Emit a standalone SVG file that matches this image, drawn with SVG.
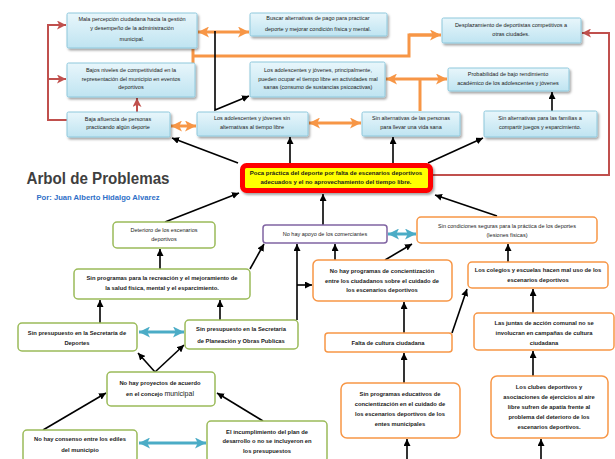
<svg xmlns="http://www.w3.org/2000/svg" width="615" height="459" viewBox="0 0 615 459">
<defs>
<linearGradient id="blueG" x1="0" y1="0" x2="0" y2="1">
<stop offset="0" stop-color="#e8f6fb"/>
<stop offset="1" stop-color="#bfe4f1"/>
</linearGradient>
<filter id="sh" x="-10%" y="-20%" width="125%" height="150%">
<feDropShadow dx="1.5" dy="2" stdDeviation="1" flood-color="#000" flood-opacity="0.35"/>
</filter>
<marker id="ab" viewBox="0 0 10 10" refX="10" refY="5" markerWidth="7" markerHeight="7" markerUnits="userSpaceOnUse" orient="auto-start-reverse"><path d="M0,0 L10,5 L0,10 z" fill="#000"/></marker>
<marker id="ao" viewBox="0 0 10 10" refX="10" refY="5" markerWidth="11" markerHeight="11" markerUnits="userSpaceOnUse" orient="auto-start-reverse"><path d="M0,0 L10,5 L0,10 L2.5,5 z" fill="#f79646"/></marker>
<marker id="at" viewBox="0 0 10 10" refX="10" refY="5" markerWidth="11" markerHeight="11" markerUnits="userSpaceOnUse" orient="auto-start-reverse"><path d="M0,0 L10,5 L0,10 L2.5,5 z" fill="#4bacc6"/></marker>
<marker id="ar" viewBox="0 0 10 10" refX="10" refY="5" markerWidth="9" markerHeight="9" markerUnits="userSpaceOnUse" orient="auto-start-reverse"><path d="M0,0 L10,5 L0,10 L2.5,5 z" fill="#c0504d"/></marker>
</defs>
<style>
text{font-family:"Liberation Sans",Arial,sans-serif;text-anchor:middle;fill:#1a1a1a}
.t{font-size:5.5px}
.b{font-size:5.8px;font-weight:bold}
.eff{fill:url(#blueG);stroke:#8ec8dc;stroke-width:1;filter:url(#sh)}
.grn{fill:#fff;stroke:#9bbb59;stroke-width:1.5}
.org{fill:#fff;stroke:#f79646;stroke-width:1.5}
.pur{fill:#fff;stroke:#8064a2;stroke-width:1.5}
.k{fill:none;stroke:#000;stroke-width:1.6;marker-end:url(#ab)}
.o{fill:none;stroke:#f79646;stroke-width:3}
.od{fill:none;stroke:#f79646;stroke-width:3;marker-start:url(#ao);marker-end:url(#ao)}
.td{fill:none;stroke:#4bacc6;stroke-width:3;marker-start:url(#at);marker-end:url(#at)}
.r{fill:none;stroke:#c0504d;stroke-width:2}
</style>
<rect width="615" height="459" fill="#fff"/>

<g id="connectors">
<path class="r" d="M67,120 H48 V25 H66" marker-end="url(#ar)"/>
<path class="r" d="M48,79 H66" marker-end="url(#ar)"/>
<path class="r" d="M137,112 V98" marker-end="url(#ar)"/>
<path class="r" d="M433,175 H609 V33 H582" marker-end="url(#ar)"/>
<path class="od" d="M198,32 H249"/>
<path class="o" d="M193,49 V63 M193,56 H409 V35 H438"/>
<path class="o" d="M409,35 H441" marker-end="url(#ao)"/>
<path class="od" d="M386,79 H447"/>
<path class="o" d="M420,79 V111"/>
<path class="od" d="M171,126 H196"/>
<path class="od" d="M309,123 H361"/>
<path class="k" d="M215,31 V110 L249,96"/>
<path class="k" d="M290,163 V137"/>
<path class="k" d="M393,163 V137"/>
<path class="k" d="M428,163 L483,138"/>
<path class="k" d="M552,111 V92"/>
<path class="k" d="M238,163 L172,138"/>
<path class="k" d="M165,222 L239,193"/>
<path class="k" d="M323,225 V194"/>
<path class="k" d="M497,216 L435,195"/>
<path class="k" d="M160,269 V249"/>
<path class="k" d="M250,269 L264,244"/>
<path class="k" d="M220,320 V300"/>
<path class="k" d="M100,323 V300"/>
<path class="td" d="M139,332 H184"/>
<path class="k" d="M155,372 L138,353"/>
<path class="k" d="M155,372 L184,345"/>
<path class="k" d="M43,430 L106,393"/>
<path class="td" d="M139,443 H206"/>
<path class="k" d="M263,421 L217,393"/>
<path class="k" d="M297,320 V244"/>
<path class="k" d="M297,285 H312"/>
<path class="k" d="M335,260 V244"/>
<path class="k" d="M385,260 L412,244"/>
<path class="td" d="M388,234 H416"/>
<path class="k" d="M508,262 V244"/>
<path class="k" d="M404,333 V302"/>
<path class="k" d="M452,333 L467,289"/>
<path class="k" d="M533,313 V289"/>
<path class="k" d="M404,383 V353"/>
<path class="k" d="M533,376 V351"/>
<path class="k" d="M407,459 V439"/>
<path class="k" d="M541,459 V439"/>
</g>

<g id="title">
<text x="98" y="184" style="font-size:16px;font-weight:bold;fill:#3f3f3f" textLength="143" lengthAdjust="spacingAndGlyphs">Arbol de Problemas</text>
<text x="98" y="200" style="font-size:7px;font-weight:bold;fill:#2e6fc7" textLength="123" lengthAdjust="spacingAndGlyphs">Por:  Juan Alberto Hidalgo Alvarez</text>
</g>

<g id="nA"><rect class="eff" x="67" y="13" width="130" height="35" rx="1.5"/>
<text class="t" x="132" y="21">Mala percepción ciudadana hacia la gestión</text>
<text class="t" x="132" y="30">y desempeño de la administración</text>
<text class="t" x="132" y="41">municipal.</text></g>
<g id="nB"><rect class="eff" x="67" y="63" width="128" height="34" rx="1.5"/>
<text class="t" x="131" y="72">Bajos niveles de competitividad en la</text>
<text class="t" x="131" y="81">representación del municipio en eventos</text>
<text class="t" x="131" y="89">deportivos</text></g>
<g id="nC"><rect class="eff" x="67" y="112" width="103" height="25" rx="1.5"/>
<text class="t" x="118" y="121">Baja afluencia de personas</text>
<text class="t" x="118" y="129">practicando algún deporte</text></g>
<g id="nD"><rect class="eff" x="250" y="13" width="137" height="23" rx="1.5"/>
<text class="t" x="318" y="20">Buscar alternativas de pago para practicar</text>
<text class="t" x="318" y="31">deporte y mejorar condición física y mental.</text></g>
<g id="nE"><rect class="eff" x="442" y="18" width="139" height="25" rx="1.5"/>
<text class="t" x="511" y="27">Desplazamiento de deportistas competitivos a</text>
<text class="t" x="511" y="36">otras ciudades.</text></g>
<g id="nF"><rect class="eff" x="250" y="62" width="135" height="35" rx="1.5"/>
<text class="t" x="318" y="72">Los adolescentes y jóvenes, principalmente,</text>
<text class="t" x="318" y="81">pueden ocupar el tiempo libre en actividades mal</text>
<text class="t" x="318" y="89">sanas (consumo de sustancias psicoactivas)</text></g>
<g id="nG"><rect class="eff" x="448" y="68" width="121" height="23" rx="1.5"/>
<text class="t" x="508" y="76">Probabilidad de bajo rendimiento</text>
<text class="t" x="508" y="85">académico de los adolescentes y jóvenes</text></g>
<g id="nH"><rect class="eff" x="197" y="112" width="111" height="24" rx="1.5"/>
<text class="t" x="252" y="120">Los adolescentes y jóvenes sin</text>
<text class="t" x="252" y="129">alternativas al tiempo libre</text></g>
<g id="nI"><rect class="eff" x="362" y="112" width="98" height="24" rx="1.5"/>
<text class="t" x="411" y="120">Sin alternativas de las personas</text>
<text class="t" x="411" y="129">para llevar una vida sana</text></g>
<g id="nJ"><rect class="eff" x="484" y="111" width="113" height="26" rx="1.5"/>
<text class="t" x="540" y="120">Sin alternativas para las familias a</text>
<text class="t" x="540" y="129">compartir juegos y esparcimiento.</text></g>

<g id="nCentral"><rect x="242.5" y="165.5" width="188" height="25" rx="4" fill="#ffff00" stroke="#ff0000" stroke-width="5" filter="url(#sh)"/>
<text class="b" x="336" y="174.5" style="font-size:6px">Poca práctica del deporte por falta de escenarios deportivos</text>
<text class="b" x="336" y="184" style="font-size:6px">adecuados y  el no aprovechamiento del tiempo libre.</text></g>

<g id="nK"><rect class="grn" x="113" y="222" width="102" height="26" rx="4"/>
<text class="t" x="164" y="232">Deterioro de los escenarios</text>
<text class="t" x="164" y="241">deportivos</text></g>
<g id="nL"><rect class="grn" x="74" y="269" width="176" height="30" rx="4"/>
<text class="b" x="162" y="280">Sin programas para la recreación y el mejoramiento de</text>
<text class="b" x="162" y="290">la salud física, mental y el esparcimiento.</text></g>
<g id="nM"><rect class="grn" x="18" y="323" width="119" height="28" rx="4"/>
<text class="b" x="77" y="335">Sin presupuesto en la Secretaría de</text>
<text class="b" x="77" y="345">Deportes</text></g>
<g id="nN"><rect class="grn" x="185" y="320" width="113" height="29" rx="4"/>
<text class="b" x="241" y="331">Sin presupuesto en la Secretaría</text>
<text class="b" x="241" y="343">de Planeación y Obras Publicas</text></g>
<g id="nO"><rect class="grn" x="107" y="372" width="108" height="34" rx="4"/>
<text class="b" x="160" y="385">No hay proyectos de acuerdo</text>
<text x="160" y="396"><tspan class="b">en el concejo </tspan><tspan style="font-size:7px">municipal</tspan></text></g>
<g id="nP"><rect class="grn" x="23" y="430" width="114" height="32" rx="4"/>
<text class="b" x="80" y="441">No hay consenso entre los ediles</text>
<text class="b" x="80" y="452">del municipio</text></g>
<g id="nQ"><rect class="grn" x="207" y="421" width="120" height="41" rx="4"/>
<text class="b" x="267" y="434">El incumplimiento del plan de</text>
<text class="b" x="267" y="443">desarrollo o no se incluyeron en</text>
<text class="b" x="267" y="453">los presupuestos</text></g>

<g id="nR"><rect class="pur" x="263" y="225" width="124" height="18" rx="3"/>
<text class="t" x="325" y="236">No hay apoyo de los comerciantes</text></g>

<g id="nS"><rect class="org" x="417" y="217" width="180" height="26" rx="4"/>
<text class="t" x="507" y="228">Sin condiciones seguras para la práctica de los deportes</text>
<text class="t" x="507" y="237">(lesiones físicas)</text></g>
<g id="nT"><rect class="org" x="313" y="260" width="139" height="41" rx="5"/>
<text class="b" x="382" y="273">No hay programas de concientización</text>
<text class="b" x="382" y="283">entre los ciudadanos sobre el cuidado de</text>
<text class="b" x="382" y="292">los escenarios deportivos</text></g>
<g id="nU"><rect class="org" x="468" y="262" width="140" height="26" rx="4"/>
<text class="b" x="538" y="272">Los colegios y escuelas hacen mal uso de los</text>
<text class="b" x="538" y="282">escenarios deportivos</text></g>
<g id="nV"><rect class="org" x="325" y="333" width="127" height="19" rx="3"/>
<text class="b" x="388" y="345">Falta de cultura ciudadana</text></g>
<g id="nW"><rect class="org" x="474" y="313" width="140" height="37" rx="4"/>
<text class="b" x="544" y="325">Las juntas de acción comunal no se</text>
<text class="b" x="544" y="335">involucran en campañas de cultura</text>
<text class="b" x="544" y="345">ciudadana</text></g>
<g id="nX"><rect class="org" x="341" y="383" width="119" height="55" rx="6"/>
<text class="b" x="400" y="396">Sin programas educativos de</text>
<text class="b" x="400" y="406">concientización en el cuidado de</text>
<text class="b" x="400" y="416">los escenarios deportivos de los</text>
<text class="b" x="400" y="426">entes municipales</text></g>
<g id="nY"><rect class="org" x="491" y="376" width="117" height="62" rx="6"/>
<text class="b" x="549" y="389">Los clubes deportivos y</text>
<text class="b" x="549" y="399">asociaciones de ejercicios al aire</text>
<text class="b" x="549" y="409">libre sufren de apatía frente al</text>
<text class="b" x="549" y="419">problema del deterioro de los</text>
<text class="b" x="549" y="429">escenarios deportivos.</text></g>
</svg>
